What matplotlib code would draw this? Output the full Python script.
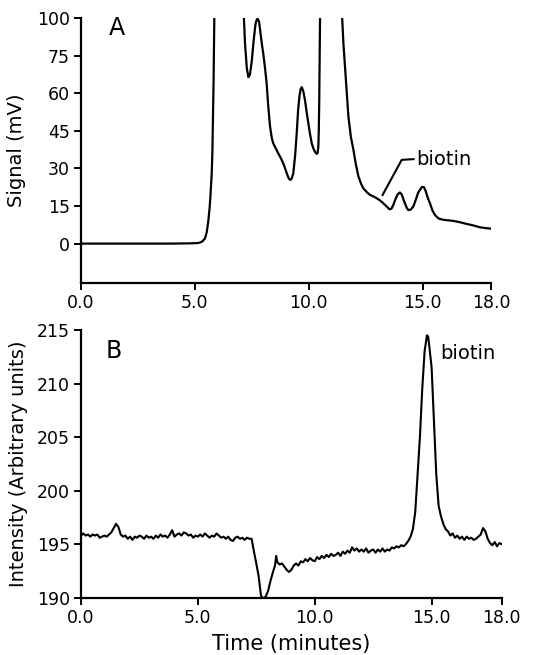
import numpy as np
from matplotlib import pyplot as plt

# panel A: chromatogram (signal, mV). axis is linear in these units,
# the top tick (drawn at 90) is labelled 100 as in the original figure
a_time = [0.0, 1.0, 2.0, 3.0, 4.0, 4.8, 5.1, 5.22, 5.33, 5.44, 5.52, 5.59, 5.65,
          5.69, 5.74, 5.77, 5.82, 5.86, 6.5, 7.13, 7.2, 7.28, 7.35, 7.42, 7.5,
          7.58, 7.66, 7.72, 7.76, 7.82, 7.88, 7.95, 8.0, 8.08, 8.15, 8.22, 8.3,
          8.38, 8.44, 8.55, 8.66, 8.78, 8.88, 8.98, 9.06, 9.13, 9.2, 9.26, 9.32,
          9.4, 9.47, 9.53, 9.59, 9.64, 9.69, 9.76, 9.83, 9.94, 10.05, 10.13, 10.2,
          10.28, 10.35, 10.39, 10.42, 10.44, 10.46, 10.5, 11.0, 11.44, 11.52,
          11.59, 11.67, 11.74, 11.85, 11.96, 12.07, 12.18, 12.3, 12.4, 12.55,
          12.69, 12.84, 12.98, 13.13, 13.27, 13.42, 13.54, 13.63, 13.71, 13.8,
          13.9, 14.0, 14.08, 14.15, 14.22, 14.3, 14.37, 14.47, 14.59, 14.7,
          14.8, 14.88, 14.97, 15.06, 15.14, 15.22, 15.32, 15.43, 15.54, 15.7,
          15.9, 16.1, 16.35, 16.65, 16.93, 17.2, 17.52, 17.75, 17.96]
a_signal = [0.0, 0.0, 0.0, 0.0, 0.0, 0.1, 0.2, 0.4, 0.9, 2.0, 4.5, 9.0, 14.5,
            20.0, 28.0, 37.0, 64.0, 95.0, 160.0, 95.0, 80.0, 70.0, 66.4, 67.5, 73.0,
            81.0, 87.5, 89.5, 89.7, 88.5, 84.0, 79.0, 76.0, 70.0, 64.0, 55.0, 46.7,
            42.0, 40.0, 38.0, 36.0, 34.0, 32.0, 29.5, 27.4, 25.8, 25.4, 26.2, 28.0,
            35.0, 44.0, 53.0, 58.7, 61.5, 62.4, 60.8, 57.4, 50.5, 44.0, 40.0, 38.0,
            36.5, 35.8, 36.2, 38.7, 45.0, 57.0, 95.0, 160.0, 95.0, 80.0, 70.7,
            60.0, 50.7, 42.5, 37.4, 31.5, 26.8, 23.8, 22.0, 20.5, 19.4, 18.8, 18.1,
            17.2, 16.1, 14.8, 13.7, 13.9, 15.4, 17.6, 19.6, 20.4, 19.6, 17.8, 16.1,
            14.3, 13.4, 13.5, 14.8, 17.5, 20.3, 21.4, 22.6, 22.5, 20.8, 18.4, 16.1,
            13.2, 11.4, 10.0, 9.5, 9.3, 9.05, 8.5, 7.85, 7.3, 6.5, 6.2, 6.0]

a_yticks = [0, 15, 30, 45, 60, 75, 90]
a_yticklabels = ['0', '15', '30', '45', '60', '75', '100']

# panel B: fluorescence trace
b_time = [0.0, 0.1, 0.2, 0.3, 0.4, 0.5, 0.6, 0.7, 0.8, 0.9, 1.0, 1.1, 1.2, 1.3,
          1.4, 1.5, 1.6, 1.7, 1.8, 1.9, 2.0, 2.1, 2.2, 2.3, 2.4, 2.5, 2.6, 2.7,
          2.8, 2.9, 3.0, 3.1, 3.2, 3.3, 3.4, 3.5, 3.6, 3.7, 3.8, 3.9, 4.0, 4.1,
          4.2, 4.3, 4.4, 4.5, 4.6, 4.7, 4.8, 4.9, 5.0, 5.1, 5.2, 5.3, 5.4, 5.5,
          5.6, 5.7, 5.8, 5.9, 6.0, 6.1, 6.2, 6.3, 6.4, 6.5, 6.6, 6.7, 6.8, 6.9,
          7.0, 7.1, 7.2, 7.3, 7.4, 7.5, 7.6, 7.7, 7.8, 7.9, 8.0, 8.1, 8.2, 8.3,
          8.35, 8.4, 8.5, 8.6, 8.7, 8.8, 8.9, 9.0, 9.1, 9.2, 9.3, 9.4, 9.5, 9.6,
          9.7, 9.8, 9.9, 10.0, 10.1, 10.2, 10.3, 10.4, 10.5, 10.6, 10.7, 10.8,
          10.9, 11.0, 11.1, 11.2, 11.3, 11.4, 11.5, 11.6, 11.7, 11.8, 11.9, 12.0,
          12.1, 12.2, 12.3, 12.4, 12.5, 12.6, 12.7, 12.8, 12.9, 13.0, 13.1, 13.2,
          13.3, 13.4, 13.5, 13.6, 13.7, 13.8, 13.9, 14.0, 14.1, 14.2, 14.3, 14.4,
          14.5, 14.6, 14.7, 14.8, 14.85, 14.9, 15.0, 15.1, 15.2, 15.3, 15.4, 15.5,
          15.6, 15.7, 15.8, 15.9, 16.0, 16.1, 16.2, 16.3, 16.4, 16.5, 16.6, 16.7,
          16.8, 16.9, 17.0, 17.1, 17.2, 17.3, 17.4, 17.5, 17.6, 17.7, 17.8, 17.9,
          18.0]
b_intensity = [195.8, 196.0, 195.8, 195.9, 195.7, 195.9, 195.8, 195.9, 195.6,
               195.7, 195.8, 195.7, 195.9, 196.1, 196.5, 196.9, 196.6, 195.9,
               195.7, 195.8, 195.5, 195.7, 195.4, 195.7, 195.6, 195.8, 195.7,
               195.5, 195.8, 195.6, 195.7, 195.5, 195.8, 195.6, 195.9, 195.7,
               195.8, 195.6, 195.9, 196.3, 195.7, 195.9, 196.0, 195.8, 196.1,
               196.0, 195.8, 195.9, 195.6, 195.8, 195.7, 195.9, 195.7, 196.0,
               195.8, 195.6, 195.8, 195.7, 196.0, 195.8, 195.6, 195.7, 195.5,
               195.7, 195.4, 195.3, 195.6, 195.7, 195.5, 195.6, 195.4, 195.6,
               195.5, 195.5, 194.3, 193.2, 192.0, 190.2, 189.9, 190.1, 190.6,
               191.5, 192.3, 193.0, 193.9, 193.3, 193.1, 193.2, 192.9, 192.6,
               192.4, 192.6, 193.0, 193.2, 193.0, 193.4, 193.3, 193.6, 193.4,
               193.7, 193.5, 193.4, 193.8, 193.6, 193.9, 193.7, 194.0, 193.8,
               194.1, 193.9, 194.0, 194.2, 193.9, 194.3, 194.1, 194.4, 194.2,
               194.7, 194.4, 194.6, 194.3, 194.5, 194.3, 194.6, 194.2, 194.4,
               194.5, 194.2, 194.5, 194.3, 194.6, 194.3, 194.5, 194.4, 194.7,
               194.6, 194.8, 194.7, 194.9, 194.8, 195.0, 195.3, 195.7, 196.4,
               198.0, 201.5, 205.0, 209.5, 213.0, 214.5, 214.4, 213.5, 211.5,
               206.5, 201.5, 198.6, 197.6, 196.9, 196.4, 196.2, 195.8, 196.0,
               195.6, 195.8, 195.5, 195.7, 195.4, 195.7, 195.5, 195.6, 195.4,
               195.5, 195.7, 195.9, 196.5, 196.2, 195.5, 195.1, 194.9, 195.2,
               194.8, 195.1, 195.0]

x_ticks = [0, 5, 10, 15, 18]
x_ticklabels = ['0.0', '5.0', '10.0', '15.0', '18.0']
b_yticks = [190, 195, 200, 205, 210, 215]

plt.rcParams['font.family'] = ['DejaVu Sans']

fig = plt.figure(figsize=(5.45, 6.55), dpi=100)
ax1 = fig.add_axes([0.1486, 0.5684, 0.7523, 0.4041])
ax2 = fig.add_axes([0.1486, 0.0875, 0.772, 0.4087])


def style_axis(ax):
    for side in ['top', 'right']:
        ax.spines[side].set_visible(False)
    for side in ['left', 'bottom']:
        ax.spines[side].set_linewidth(1.6)
    ax.tick_params(direction='out', length=5, width=1.4, labelsize=12.5, pad=3)
    ax.set_xlim(0, 18)
    ax.set_xticks(x_ticks)
    ax.set_xticklabels(x_ticklabels)


# --- A ---
ax1.plot(a_time, a_signal, color='black', lw=1.6)
style_axis(ax1)
ax1.set_ylim(-15.6, 90)
ax1.set_yticks(a_yticks)
ax1.set_yticklabels(a_yticklabels)
ax1.set_ylabel('Signal (mV)', fontsize=14, labelpad=8)
ax1.text(1.2, 86, 'A', fontsize=17, va='center', ha='left')
ax1.plot([13.24, 14.08, 14.6], [19.4, 33.4, 33.7], color='black', lw=1.5)
ax1.text(14.7, 33.6, 'biotin', fontsize=14, va='center', ha='left')

# --- B ---
ax2.plot(b_time, b_intensity, color='black', lw=1.5)
style_axis(ax2)
ax2.set_ylim(190, 215)
ax2.set_yticks(b_yticks)
ax2.set_ylabel('Intensity (Arbitrary units)', fontsize=14, labelpad=6)
ax2.set_xlabel('Time (minutes)', fontsize=15, labelpad=5)
ax2.text(1.07, 213, 'B', fontsize=17, va='center', ha='left')
ax2.text(15.36, 212.8, 'biotin', fontsize=14, va='center', ha='left')

plt.savefig('out.png', dpi=100)
